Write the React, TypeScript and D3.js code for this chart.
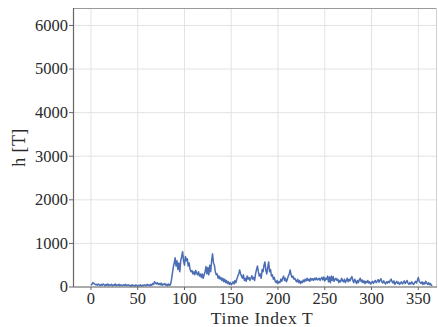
import React from "react";
import * as d3 from "d3";

const values: number[] = [
  40, 60, 100, 80, 70, 50, 60, 40, 70, 50, 30, 60, 40, 70, 50, 30, 60, 40, 70, 30,
  50, 40, 60, 30, 50, 40, 70, 30, 50, 40, 60, 30, 50, 40, 30, 50, 40, 60, 30, 40,
  50, 30, 40, 20, 50, 30, 40, 20, 50, 30, 20, 40, 30, 50, 20, 40, 30, 50, 40, 30,
  60, 40, 50, 30, 60, 40, 80, 60, 120, 90, 70, 100, 60, 80, 50, 90, 40, 70, 50, 80,
  40, 60, 30, 70, 40, 50, 150, 300, 450, 550, 670, 480, 600, 400, 550, 350, 600, 700, 810, 600,
  500, 700, 600, 650, 480, 550, 400, 350, 380, 300, 350, 280, 380, 320, 280, 350, 250, 300, 220, 300,
  200, 280, 350, 470, 300, 450, 280, 500, 350, 600, 760, 550, 500, 350, 280, 300, 200, 250, 180, 220,
  150, 200, 120, 180, 100, 150, 80, 120, 60, 100, 50, 80, 120, 70, 150, 100, 180, 250, 300, 390,
  300, 250, 200, 280, 150, 200, 130, 250, 180, 220, 150, 200, 260, 180, 220, 150, 300, 400, 480, 350,
  250, 300, 200, 400, 350, 500, 575, 380, 300, 450, 575, 350, 400, 250, 280, 180, 220, 130, 100, 150,
  80, 120, 100, 180, 130, 200, 250, 150, 200, 120, 180, 250, 300, 390, 280, 220, 250, 180, 200, 150,
  120, 180, 100, 150, 80, 130, 100, 160, 120, 180, 140, 200, 150, 180, 130, 200, 160, 190, 150, 200,
  170, 210, 160, 180, 200, 150, 190, 220, 160, 230, 140, 200, 180, 250, 120, 230, 100, 250, 150, 240,
  130, 180, 200, 150, 180, 100, 150, 120, 200, 150, 120, 180, 100, 150, 200, 120, 180, 140, 200, 240,
  150, 100, 180, 130, 80, 150, 100, 170, 200, 120, 160, 100, 140, 80, 130, 100, 150, 90, 120, 70,
  100, 130, 80, 120, 150, 100, 130, 170, 110, 150, 190, 120, 90, 140, 100, 70, 120, 90, 130, 100,
  150, 180, 120, 90, 140, 60, 100, 130, 80, 110, 60, 90, 120, 70, 100, 140, 80, 110, 150, 90,
  60, 100, 70, 120, 80, 60, 100, 130, 90, 150, 220, 130, 100, 80, 120, 60, 100, 70, 130, 90,
  60, 100, 50, 80, 40, 30,
];

const xTicks = [0, 50, 100, 150, 200, 250, 300, 350];
const yTicks = [0, 1000, 2000, 3000, 4000, 5000, 6000];
const xLabel = "Time Index T";
const yLabel = "h [T]";

const W = 438;
const H = 327;
const left = 73;
const right = 437;
const top = 8;
const bottom = 287;

export default function App() {
  const x = d3.scaleLinear().domain([-19.2, 370]).range([left, right]);
  const y = d3.scaleLinear().domain([0, 6400]).range([bottom, top]);
  const line = d3
    .line<number>()
    .x((_, i) => x(i))
    .y((d) => y(d));
  const font = "'Liberation Serif', 'Times New Roman', serif";
  return (
    <svg
      width={W}
      height={H}
      style={{ position: "absolute", left: 0, top: 0, background: "#fff" }}
      fontFamily={font}
    >
      <rect x={0} y={0} width={W} height={H} fill="#fff" />
      {xTicks.map((t) => (
        <line key={"gx" + t} x1={x(t)} x2={x(t)} y1={top} y2={bottom} stroke="#e3e3e3" strokeWidth={1} />
      ))}
      {yTicks.map((t) => (
        <line key={"gy" + t} x1={left} x2={right} y1={y(t)} y2={y(t)} stroke="#e3e3e3" strokeWidth={1} />
      ))}
      <path d={line(values) || ""} fill="none" stroke="#4a6db3" strokeWidth={1.5} strokeLinejoin="round" />
      <line x1={left} x2={right} y1={top + 0.5} y2={top + 0.5} stroke="#9a9a9a" strokeWidth={1} />
      <line x1={right - 0.5} x2={right - 0.5} y1={top} y2={bottom} stroke="#d0d0d0" strokeWidth={1} />
      <line x1={left + 0.5} x2={left + 0.5} y1={top} y2={bottom} stroke="#666" strokeWidth={1.2} />
      <line x1={left} x2={right} y1={bottom} y2={bottom} stroke="#666" strokeWidth={1.2} />
      {yTicks.map((t) => (
        <g key={"ty" + t}>
          <line x1={left - 4} x2={left} y1={y(t)} y2={y(t)} stroke="#666" strokeWidth={1} />
          <text x={left - 5} y={y(t)} dy="0.33em" textAnchor="end" fontSize={16.5} fill="#2a2a2a">
            {t}
          </text>
        </g>
      ))}
      {xTicks.map((t) => (
        <g key={"tx" + t}>
          <line x1={x(t)} x2={x(t)} y1={bottom} y2={bottom + 3} stroke="#666" strokeWidth={1} />
          <text x={x(t)} y={303.5} textAnchor="middle" fontSize={16.5} fill="#2a2a2a">
            {t}
          </text>
        </g>
      ))}
      <text x={262} y={324} textAnchor="middle" fontSize={17.5} letterSpacing={0.6} fill="#2a2a2a">
        {xLabel}
      </text>
      <text
        transform={`translate(25, ${(top + bottom) / 2}) rotate(-90)`}
        textAnchor="middle"
        fontSize={18}
        letterSpacing={0.4}
        fill="#2a2a2a"
      >
        {yLabel}
      </text>
    </svg>
  );
}
